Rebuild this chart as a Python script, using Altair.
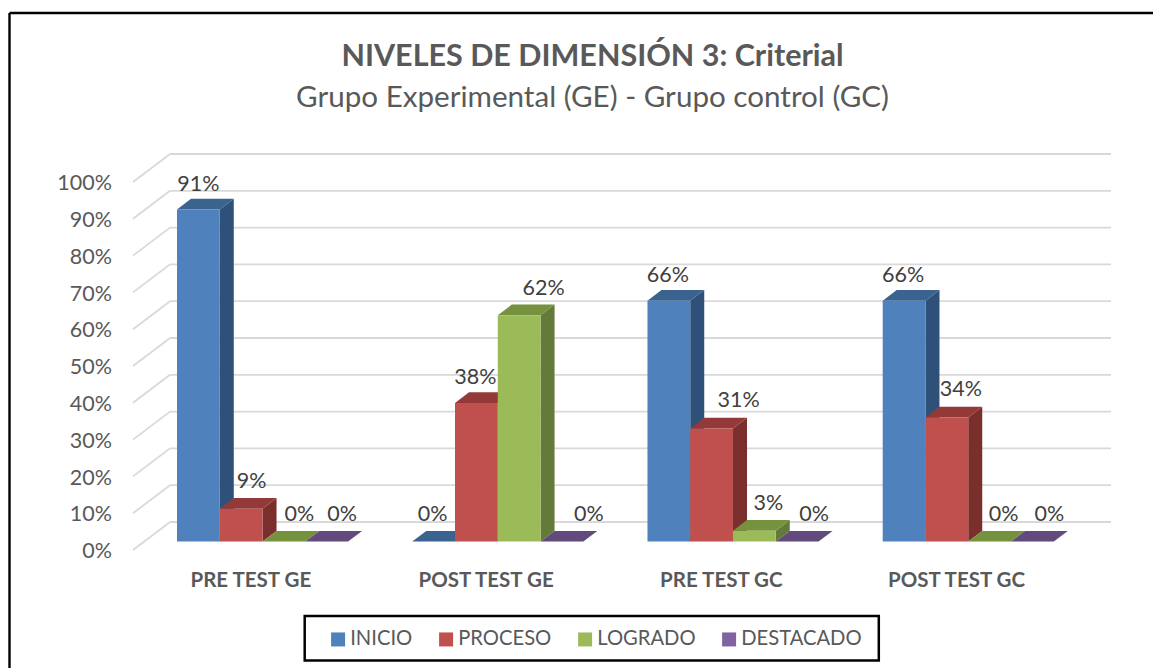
import altair as alt
import pandas as pd

series_names = ["INICIO", "PROCESO", "LOGRADO", "DESTACADO"]
categories = ["PRE TEST GE", "POST TEST GE", "PRE TEST GC", "POST TEST GC"]
inicio = [91, 0, 66, 66]
proceso = [9, 38, 31, 34]
logrado = [0, 62, 3, 0]
destacado = [0, 0, 0, 0]
tick_values = [0, 10, 20, 30, 40, 50, 60, 70, 80, 90, 100]

front_colors = ["#4f81bd", "#c0504d", "#9bbb59", "#8064a2"]
top_colors = ["#3a638f", "#933a38", "#77923f", "#624a7c"]
side_colors = ["#2f5078", "#7b2f2d", "#637a38", "#503d66"]

# horizontal nudge of each value label from its bar centre, in pixels
label_nudges = [
    [0, 10.5, 15.5, 15.5],
    [-1, -1, 24.5, 27],
    [-1, 27, 14, 17],
    [-1, 14, 14, 17],
]
# gap between each value label and its bar top, in pixels
label_gaps = [
    [22, 26, 27, 27],
    [27, 23.5, 24.5, 27],
    [23, 27, 27, 27],
    [23, 26, 27, 27],
]

W, H = 1147, 660
PX_U = 42.77      # pixels per bar width
PX_V = 3.65       # pixels per percentage point on the bar plane
WALL_K = 3.68 / PX_V  # the back wall's grid is spaced slightly wider
X0 = 169.0        # chart x of the first bar
Y0 = 533.6        # chart y of the value 0 on the bar plane
GROUP = 5.5       # bars per group step
DX = 14 / PX_U    # bar depth
DY = 10.7 / PX_V

x_scale = alt.Scale(domain=[-X0 / PX_U, (W - X0) / PX_U], range=[0, W], nice=False, zero=False)
y_scale = alt.Scale(domain=[(Y0 - H) / PX_V, Y0 / PX_V], range=[H, 0], nice=False, zero=False)
X = lambda f: alt.X(f, type="quantitative", scale=x_scale, axis=None)
Y = lambda f: alt.Y(f, type="quantitative", scale=y_scale, axis=None)
X2 = lambda f: alt.X2(f)
Y2 = lambda f: alt.Y2(f)

columns = [inicio, proceso, logrado, destacado]
front, side, top, labels = [], [], [], []
for g in range(len(categories)):
    for s, name in enumerate(series_names):
        v = columns[s][g]
        x0 = g * GROUP + s
        x1 = x0 + 1
        key = f"{g}-{s}"
        front.append(dict(x=x0, x2=x1, y=0, y2=v, serie=name))
        if v > 0:
            side += [
                dict(k=key, x=x1, y=0, y2=v, c=side_colors[s]),
                dict(k=key, x=x1 + DX, y=DY, y2=v + DY, c=side_colors[s]),
            ]
        top += [
            dict(k=key, y=v, x=x0, x2=x1, c=top_colors[s]),
            dict(k=key, y=v + DY, x=x0 + DX, x2=x1 + DX, c=top_colors[s]),
        ]
        labels.append(dict(x=x0 + 0.5 + label_nudges[g][s] / PX_U,
                           y=v * WALL_K + label_gaps[g][s] / PX_V, t=f"{v}%"))

BACK_Y = 19.6 / PX_V
FRONT_Y = -8.4 / PX_V
BACK_X0, BACK_X1 = -7 / PX_U, 934 / PX_U
FRONT_X = -44 / PX_U
grid = [dict(x=BACK_X0, x2=BACK_X1, y=t * WALL_K + BACK_Y) for t in tick_values]
diag = [dict(x=FRONT_X, x2=BACK_X0, y=t * WALL_K + FRONT_Y, y2=t * WALL_K + BACK_Y) for t in tick_values]
ticks = [dict(x=FRONT_X - 21 / PX_U, y=t * WALL_K + FRONT_Y - 0.6, t=f"{t}%") for t in tick_values]
cats = [dict(x=g * GROUP + 2 - 11.7 / PX_U, y=-10.7, t=c) for g, c in enumerate(categories)]

FONT = "Lato"
grid_l = alt.Chart(pd.DataFrame(grid)).mark_rule(color="#d9d9d9", strokeWidth=1.8).encode(
    x=X("x"), x2=X2("x2"), y=Y("y"))
diag_l = alt.Chart(pd.DataFrame(diag)).mark_rule(color="#d9d9d9", strokeWidth=1.8).encode(
    x=X("x"), x2=X2("x2"), y=Y("y"), y2=Y2("y2"))
side_l = alt.Chart(pd.DataFrame(side)).mark_area(interpolate="linear", line=False).encode(
    x=X("x"), y=Y("y"), y2=Y2("y2"), detail="k:N",
    color=alt.Color("c:N", scale=None, legend=None))
top_l = alt.Chart(pd.DataFrame(top)).mark_area(orient="horizontal", interpolate="linear").encode(
    y=Y("y"), x=X("x"), x2=X2("x2"), detail="k:N",
    color=alt.Color("c:N", scale=None, legend=None))
front_l = alt.Chart(pd.DataFrame(front)).mark_rect().encode(
    x=X("x"), x2=X2("x2"), y=Y("y"), y2=Y2("y2"),
    color=alt.Color("serie:N", sort=series_names,
                    scale=alt.Scale(domain=series_names, range=front_colors),
                    legend=alt.Legend(title=None, orient="none", direction="horizontal",
                                      legendX=320, legendY=621, columns=4,
                                      symbolType="square", symbolSize=196,
                                      symbolStrokeWidth=0, symbolOpacity=1,
                                      labelFont=FONT, labelFontSize=20.2, labelColor="#595959",
                                      columnPadding=23, padding=0, labelOffset=2)))
label_l = alt.Chart(pd.DataFrame(labels)).mark_text(font=FONT, fontSize=21.5, color="#404040").encode(
    x=X("x"), y=Y("y"), text="t:N")
tick_l = alt.Chart(pd.DataFrame(ticks)).mark_text(font=FONT, fontSize=21.5, color="#595959", align="right").encode(
    x=X("x"), y=Y("y"), text="t:N")
cat_l = alt.Chart(pd.DataFrame(cats)).mark_text(font=FONT, fontSize=20.5, fontWeight="bold", color="#595959").encode(
    x=X("x"), y=Y("y"), text="t:N")
frame_top = alt.Chart(pd.DataFrame({"a": [0]})).mark_rule(color="#000000", strokeWidth=2.4).encode(
    x=alt.value(1.5), x2=alt.value(W - 2), y=alt.value(5))
frame_left = alt.Chart(pd.DataFrame({"a": [0]})).mark_rule(color="#000000", strokeWidth=2.4).encode(
    x=alt.value(1.5), y=alt.value(5), y2=alt.value(H))
legend_box = alt.Chart(pd.DataFrame({"a": [0]})).mark_rect(
    fill="#ffffff", stroke="#000000", strokeWidth=2.5).encode(
    x=alt.value(296.7), x2=alt.value(870.8), y=alt.value(608), y2=alt.value(652.5))

chart = alt.layer(frame_top, frame_left, legend_box, grid_l, diag_l, side_l, top_l, front_l,
                  label_l, tick_l, cat_l).properties(
    width=W, height=H, padding=0,
    title=alt.TitleParams(
        text="NIVELES DE DIMENSIÓN 3: Criterial",
        subtitle="Grupo Experimental (GE) - Grupo control (GC)",
        font=FONT, fontSize=30.5, fontWeight="bold", color="#595959",
        subtitleFont=FONT, subtitleFontSize=29.6, subtitleColor="#595959",
        subtitleFontWeight="normal", subtitlePadding=12,
        anchor="middle", frame="bounds", orient="top", offset=-105, dx=11,
    ),
).configure_view(strokeWidth=0).resolve_scale(color="independent")

chart.save("out.html", embed_options={"renderer": "svg", "actions": False})
